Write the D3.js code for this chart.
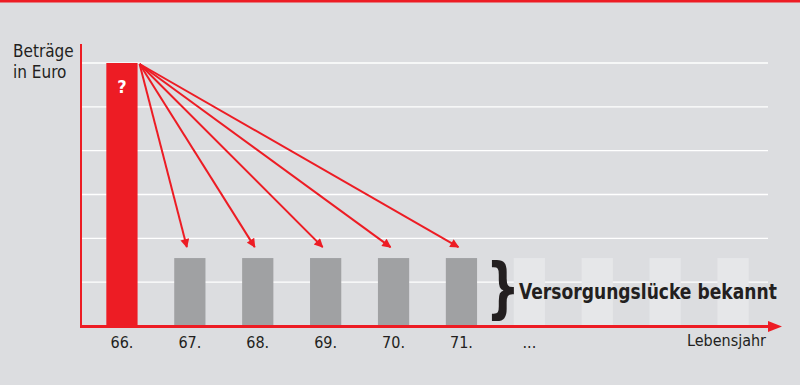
<!DOCTYPE html>
<html>
<head>
<meta charset="utf-8">
<script src="https://cdn.jsdelivr.net/npm/d3@7"></script>
<style>
  body { margin: 0; background: #dcdde0; }
  svg { display: block; }
  text { font-family: "Liberation Sans Narrow", "DejaVu Sans Condensed", sans-serif; fill: #231f20; }
</style>
</head>
<body>
<svg id="chart"></svg>
<script>
// Lebensjahre und Beträge (Einheiten = Gitterlinien)
const jahre = ["66", "67", "68", "69", "70", "71", "72", "73", "74", "75"];
const labels = ["66.", "67.", "68.", "69.", "70.", "71.", "...", "", "", ""];
const werte = [6, 1.55, 1.55, 1.55, 1.55, 1.55, 1.55, 1.55, 1.55, 1.55];
const art = ["offen", "bekannt", "bekannt", "bekannt", "bekannt", "bekannt", "spaeter", "spaeter", "spaeter", "spaeter"];
const gridTicks = [1, 2, 3, 4, 5, 6];

const width = 800, height = 385;
const red = "#ed1c24";
const farben = { offen: red, bekannt: "#a0a1a3", spaeter: "#e6e7e9" };

const svg = d3.select("#chart").attr("width", width).attr("height", height);

const x = d3.scaleBand().domain(jahre).range([88, 767]).paddingInner(0.54).paddingOuter(0.27);
const y = d3.scaleLinear().domain([0, 6]).range([326, 63]);

// roter Balken oben
svg.append("rect").attr("x", 0).attr("y", 0).attr("width", width).attr("height", 2.5).attr("fill", red);

// Gitterlinien
svg.append("g").selectAll("line")
  .data(gridTicks)
  .enter()
  .append("line")
  .attr("x1", 82).attr("x2", 768)
  .attr("y1", d => y(d)).attr("y2", d => y(d))
  .attr("stroke", "#fff").attr("stroke-width", 1.3);

// Balken
svg.append("g").selectAll("rect")
  .data(jahre)
  .enter()
  .append("rect")
  .attr("x", d => x(d))
  .attr("width", x.bandwidth())
  .attr("y", (d, i) => y(werte[i]))
  .attr("height", (d, i) => y(0) - y(werte[i]))
  .attr("fill", (d, i) => farben[art[i]]);

// Fragezeichen im ersten Balken
svg.append("text")
  .attr("x", x(jahre[0]) + x.bandwidth() / 2)
  .attr("y", y(6) + 30)
  .attr("text-anchor", "middle")
  .attr("font-size", 18).attr("font-weight", "bold")
  .style("fill", "#fff")
  .text("?");

// Pfeile vom ersten Balken zu den bekannten Jahren
const defs = svg.append("defs");
defs.append("marker")
  .attr("id", "pfeil")
  .attr("viewBox", "0 0 10 10")
  .attr("refX", 9).attr("refY", 5)
  .attr("markerWidth", 5.5).attr("markerHeight", 4.5)
  .attr("markerUnits", "strokeWidth")
  .attr("orient", "auto")
  .append("path").attr("d", "M0,0 L10,5 L0,10 Z").attr("fill", red);

const startX = x(jahre[0]) + x.bandwidth() + 2, startY = y(6) + 1;
const ziele = jahre.filter((d, i) => art[i] === "bekannt");
svg.append("g").selectAll("line")
  .data(ziele)
  .enter()
  .append("line")
  .attr("x1", startX).attr("y1", startY)
  .attr("x2", d => x(d) + x.bandwidth() / 2 - 3)
  .attr("y2", y(1.8))
  .attr("stroke", red).attr("stroke-width", 2)
  .attr("marker-end", "url(#pfeil)");

// Achsen
svg.append("line").attr("x1", 81).attr("x2", 81).attr("y1", 44).attr("y2", 327.5)
  .attr("stroke", red).attr("stroke-width", 2);
svg.append("line").attr("x1", 80).attr("x2", 772).attr("y1", 326.5).attr("y2", 326.5)
  .attr("stroke", red).attr("stroke-width", 3);
svg.append("path").attr("d", "M768,321 L782,326.5 L768,332 Z").attr("fill", red);

// x-Beschriftung
svg.append("g").selectAll("text")
  .data(jahre)
  .enter()
  .append("text")
  .attr("x", d => x(d) + x.bandwidth() / 2)
  .attr("y", 348)
  .attr("text-anchor", "middle")
  .attr("font-size", 16)
  .text((d, i) => labels[i]);

svg.append("text").attr("x", 766).attr("y", 346).attr("text-anchor", "end")
  .attr("font-size", 16).text("Lebensjahr");

svg.append("text").attr("x", 13).attr("y", 57).attr("font-size", 17).text("Beträge");
svg.append("text").attr("x", 13).attr("y", 78).attr("font-size", 17).text("in Euro");

// Klammer und Hinweis, horizontal gestaucht auf die Breite im Original
function gestaucht(x0, y0, faktor, size, txt) {
  return svg.append("g")
    .attr("transform", `translate(${x0},${y0}) scale(${faktor},1)`)
    .append("text").attr("font-size", size).attr("font-weight", "bold").text(txt);
}
gestaucht(486, 310, 0.8, 66, "}");
const hinweis = gestaucht(519, 299, 1, 22, "Versorgungslücke bekannt");
const breite = hinweis.node().getComputedTextLength();
d3.select(hinweis.node().parentNode).attr("transform", `translate(519,299) scale(${258 / breite},1)`);
</script>
</body>
</html>
